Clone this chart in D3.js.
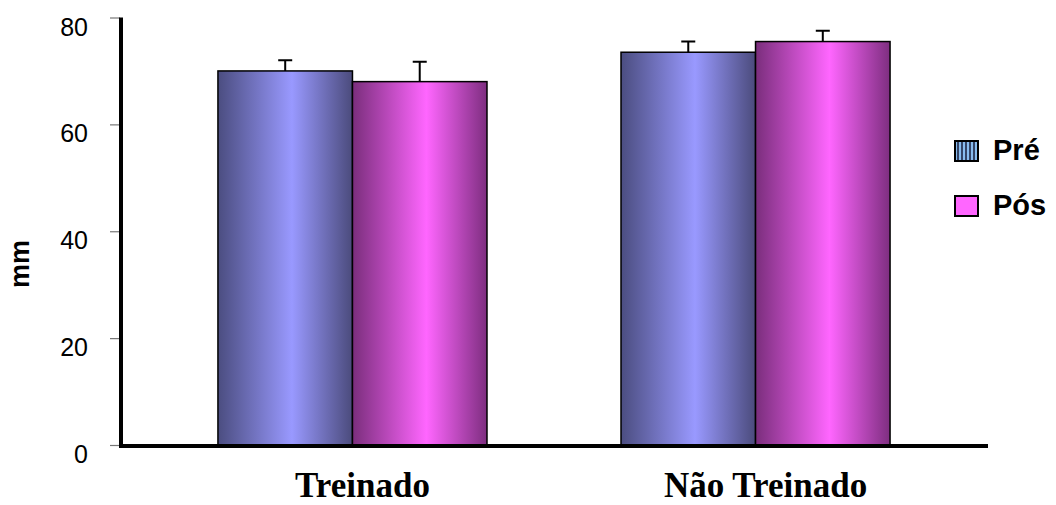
<!DOCTYPE html>
<html>
    <head>
        <meta charset="utf-8">
        <script src="https://d3js.org/d3.v7.min.js"></script>
        <style>
            body { margin: 0; background: #fff; }
        </style>
    </head>
    <body>
        <div class="chart"></div>
        <script>
            let width = 1056;
            let height = 505;

            let categories = ["Treinado", "Não Treinado"];
            let series = ["Pré", "Pós"];
            let preValues = [70.0, 73.5];
            let posValues = [68.0, 75.5];
            let preErrors = [2.0, 2.0];
            let posErrors = [3.7, 2.0];
            let yTicks = [0, 20, 40, 60, 80];

            let data = categories.map(function (c, i) {
                return {
                    cat: c,
                    bars: [
                        { s: "Pré", v: preValues[i], e: preErrors[i] },
                        { s: "Pós", v: posValues[i], e: posErrors[i] }
                    ]
                };
            });

            let svg = d3.select('.chart')
                .append('svg')
                .attr("width", width)
                .attr("height", height);

            let defs = svg.append("defs");

            function addGradient(id, dark, light, dark2) {
                let g = defs.append("linearGradient")
                    .attr("id", id)
                    .attr("x1", "0%").attr("x2", "100%")
                    .attr("y1", "0%").attr("y2", "0%");
                g.append("stop").attr("offset", "0%").attr("stop-color", dark);
                g.append("stop").attr("offset", "55%").attr("stop-color", light);
                g.append("stop").attr("offset", "100%").attr("stop-color", dark2);
            }
            addGradient("gradPre", "#4b4d80", "#9999ff", "#4b4b7c");
            addGradient("gradPos", "#7a2e7c", "#ff66ff", "#7e2e80");

            let pat = defs.append("pattern")
                .attr("id", "patPre")
                .attr("width", 4).attr("height", 4)
                .attr("patternUnits", "userSpaceOnUse");
            pat.append("rect").attr("width", 4).attr("height", 4).attr("fill", "#334466");
            pat.append("rect").attr("width", 2).attr("height", 4).attr("fill", "#88bbee");

            let color = { "Pré": "url(#gradPre)", "Pós": "url(#gradPos)" };

            let x0 = d3.scaleBand()
                .domain(categories)
                .range([120, 988])
                .paddingInner(0.3325)
                .paddingOuter(0.243);

            let x1 = d3.scaleBand()
                .domain(series)
                .range([0, x0.bandwidth()]);

            let y = d3.scaleLinear()
                .domain([0, 80])
                .range([445, 17.5]);

            // y axis ticks
            let yAxis = svg.append("g")
                .attr("transform", "translate(120,0)")
                .call(d3.axisLeft(y).tickValues(yTicks).tickSize(10).tickPadding(22));
            yAxis.select(".domain").remove();
            yAxis.selectAll(".tick line").attr("stroke", "#777").attr("stroke-width", 1.2);
            yAxis.selectAll(".tick text")
                .attr("dy", "0.7em")
                .style("font-family", "Arial, 'Liberation Sans', sans-serif")
                .style("font-size", "25px")
                .style("fill", "#000");

            // bars
            let groups = svg.selectAll(".group")
                .data(data)
                .enter()
                .append("g")
                .attr("class", "group")
                .attr("transform", function (d) { return "translate(" + x0(d.cat) + ",0)"; });

            groups.selectAll("rect")
                .data(function (d) { return d.bars; })
                .enter()
                .append("rect")
                .attr("x", function (d) { return x1(d.s); })
                .attr("y", function (d) { return y(d.v); })
                .attr("width", x1.bandwidth())
                .attr("height", function (d) { return y(0) - y(d.v); })
                .attr("fill", function (d) { return color[d.s]; })
                .attr("stroke", "#000")
                .attr("stroke-width", 1.5);

            // error bars (upper only)
            groups.selectAll(".err")
                .data(function (d) { return d.bars; })
                .enter()
                .append("path")
                .attr("class", "err")
                .attr("fill", "none")
                .attr("stroke", "#000")
                .attr("stroke-width", 2)
                .attr("d", function (d) {
                    let cx = x1(d.s) + x1.bandwidth() / 2;
                    let top = y(d.v + d.e);
                    return "M" + cx + "," + y(d.v) + "V" + top + "M" + (cx - 7) + "," + top + "H" + (cx + 7);
                });

            // axis lines
            svg.append("line")
                .attr("x1", 121).attr("x2", 121)
                .attr("y1", y(80)).attr("y2", 448)
                .attr("stroke", "#000").attr("stroke-width", 4);

            let xAxis = svg.append("g")
                .attr("transform", "translate(0,446)")
                .call(d3.axisBottom(x0).tickSize(0).tickPadding(0));
            xAxis.select(".domain")
                .attr("d", "M119,0H988")
                .attr("stroke", "#000")
                .attr("stroke-width", 4);
            xAxis.selectAll(".tick text")
                .attr("y", 51)
                .attr("dy", 0)
                .attr("dx", 10)
                .style("font-family", "'Times New Roman', 'Liberation Serif', serif")
                .style("font-weight", "bold")
                .style("font-size", "35px")
                .style("fill", "#000");

            // y label
            svg.append("text")
                .attr("transform", "translate(29,264) rotate(-90)")
                .style("text-anchor", "middle")
                .style("font-family", "Arial, 'Liberation Sans', sans-serif")
                .style("font-weight", "bold")
                .style("font-size", "27px")
                .text("mm");

            // legend
            let legendFill = { "Pré": "url(#patPre)", "Pós": "#ff66ff" };
            let legend = svg.selectAll(".legend")
                .data(series)
                .enter()
                .append("g")
                .attr("class", "legend")
                .attr("transform", function (d, i) { return "translate(955," + (141 + i * 55) + ")"; });

            legend.append("rect")
                .attr("width", 23)
                .attr("height", 20)
                .attr("fill", function (d) { return legendFill[d]; })
                .attr("stroke", "#000")
                .attr("stroke-width", 2);

            legend.append("text")
                .attr("x", 38)
                .attr("y", 19)
                .style("font-family", "Arial, 'Liberation Sans', sans-serif")
                .style("font-weight", "bold")
                .style("font-size", "29px")
                .text(function (d) { return d; });
        </script>
    </body>
</html>
